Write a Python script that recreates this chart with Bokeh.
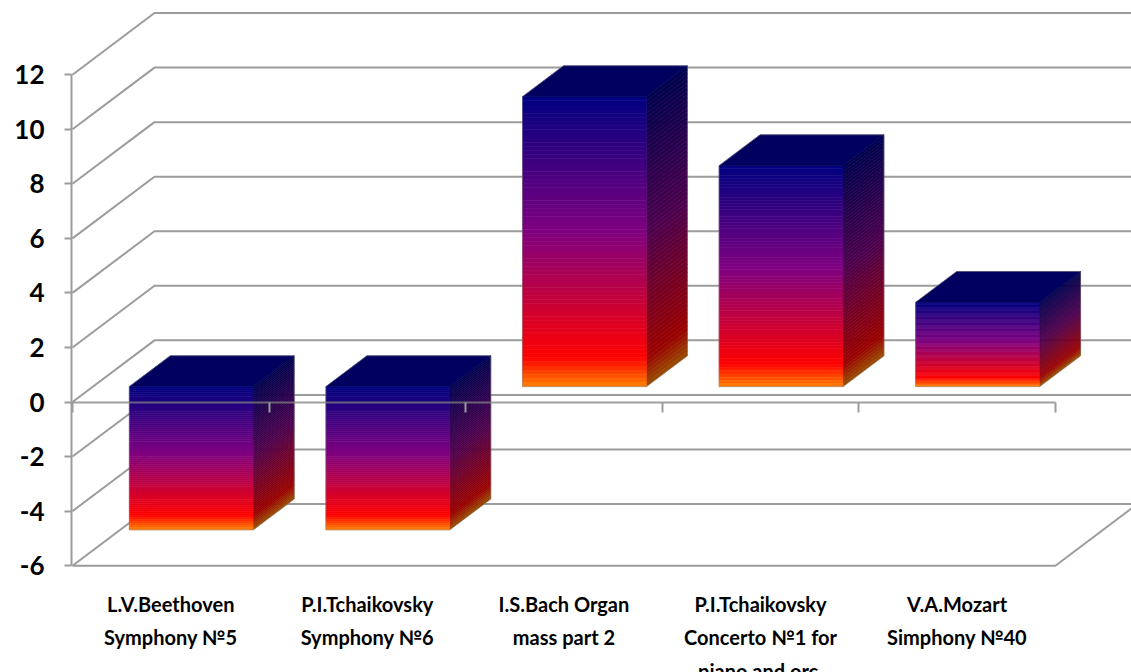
from bokeh.plotting import figure
from bokeh.models import LinearAxis, FixedTicker, Range1d, Label
from bokeh.embed import file_html
from bokeh.resources import INLINE

# Chart values
pieces = ["L.V.Beethoven\nSymphony №5", "P.I.Tchaikovsky\nSymphony №6", "I.S.Bach Organ\nmass part 2",
          "P.I.Tchaikovsky\nConcerto №1 for\npiano and orc.", "V.A.Mozart\nSimphony №40"]
percent = [-5.25, -5.25, 10.63, 8.1, 3.09]
y_ticks = [-6, -4, -2, 0, 2, 4, 6, 8, 10, 12]

# Oblique projection: how far the rear wall is shifted, in axis units
DEPTH_X = 0.417
DEPTH_Y = 2.26
BAR_WIDTH = 0.63
BAR_Z = (0.25, 0.75)
STRIPS = 70

GRID = "#9c9c9c"
FONT = "Lato"
TOP_FACE = "#00005e"
# Vertical colour ramp of the bars, top to bottom
RAMP = [(0.0, (0, 0, 128)), (0.47, (128, 0, 128)), (0.9, (255, 0, 0)), (1.0, (255, 128, 0))]


def ramp(t, shade=1.0):
    for (t0, c0), (t1, c1) in zip(RAMP, RAMP[1:]):
        if t <= t1:
            f = (t - t0) / (t1 - t0)
            rgb = [(a + (b - a) * f) * shade for a, b in zip(c0, c1)]
            return "#%02x%02x%02x" % tuple(int(round(v)) for v in rgb)
    return "#ff8000"


p = figure(width=1131, height=672, output_backend="svg", toolbar_location=None,
           x_range=Range1d(-0.005, 5.387), y_range=Range1d(-9.916, 14.72),
           min_border_left=71, min_border_right=0, min_border_top=0, min_border_bottom=0,
           outline_line_color=None, background_fill_color="white")
p.grid.visible = False

# Rear wall lines and the side wall diagonals
xs, ys = [], []
for v in y_ticks:
    xs.append([0, DEPTH_X, len(pieces) + DEPTH_X])
    ys.append([v, v + DEPTH_Y, v + DEPTH_Y])
xs.append([0, len(pieces), len(pieces) + DEPTH_X])
ys.append([-6, -6, -6 + DEPTH_Y])
p.multi_line(xs, ys, line_color=GRID, line_width=2)

# Bars
for i, v in enumerate(percent):
    low, high = min(v, 0), max(v, 0)
    x0 = i + 0.5 - BAR_WIDTH / 2
    x1 = x0 + BAR_WIDTH
    fx0, fx1 = x0 + BAR_Z[0] * DEPTH_X, x1 + BAR_Z[0] * DEPTH_X
    bx1 = x1 + BAR_Z[1] * DEPTH_X
    bx0 = x0 + BAR_Z[1] * DEPTH_X
    fy = BAR_Z[0] * DEPTH_Y
    by = BAR_Z[1] * DEPTH_Y
    step = (high - low) / STRIPS
    tops = [high - k * step for k in range(STRIPS)]
    bottoms = [t - step for t in tops]
    mids = [(k + 0.5) / STRIPS for k in range(STRIPS)]
    front = [ramp(t) for t in mids]
    side = [ramp(t, 0.6) for t in mids]
    p.patches([[fx1, bx1, bx1, fx1] for _ in tops],
              [[b + fy, b + by, t + by, t + fy] for t, b in zip(tops, bottoms)],
              fill_color=side, line_color=side, line_width=0.6)
    p.quad(left=fx0, right=fx1, top=[t + fy for t in tops], bottom=[b + fy for b in bottoms],
           fill_color=front, line_color=front, line_width=0.6)
    p.patch([fx0, bx0, bx1, fx1], [high + fy, high + by, high + by, high + fy],
            fill_color=TOP_FACE, line_color=TOP_FACE, line_width=0.6)
    # Soft silhouette around the block
    p.line([fx0, fx0, fx1, bx1, bx1, bx0, fx0],
           [high + fy, low + fy, low + fy, low + by, high + by, high + by, high + fy],
           line_color="#808080", line_alpha=0.45, line_width=1)

# Value axis
yaxis = p.yaxis[0]
yaxis.ticker = FixedTicker(ticks=y_ticks)
yaxis.bounds = (-6, 12)
yaxis.axis_line_color = GRID
yaxis.axis_line_width = 2
yaxis.major_tick_line_color = GRID
yaxis.major_tick_line_width = 2
yaxis.major_tick_in = 0
yaxis.major_tick_out = 7
yaxis.minor_tick_line_color = None
yaxis.major_label_standoff = 20
yaxis.major_label_text_font = FONT
yaxis.major_label_text_font_style = "bold"
yaxis.major_label_text_font_size = "26px"
yaxis.major_label_text_color = "black"
yaxis.major_label_overrides = {v: str(v) for v in y_ticks}

# Category axis at zero, ticks only, over the bars
xaxis = p.xaxis[0]
xaxis.fixed_location = 0
xaxis.ticker = FixedTicker(ticks=list(range(len(pieces) + 1)))
xaxis.bounds = (0, len(pieces))
xaxis.axis_line_color = "#808080"
xaxis.axis_line_alpha = 0.75
xaxis.axis_line_width = 2
xaxis.major_tick_line_color = GRID
xaxis.major_tick_line_width = 2
xaxis.major_tick_in = 0
xaxis.major_tick_out = 10
xaxis.minor_tick_line_color = None
xaxis.major_label_text_font_size = "0px"
xaxis.major_label_text_color = None

# Category names under the floor
centers = [i + 0.5 for i in range(len(pieces))]
names = LinearAxis(ticker=FixedTicker(ticks=centers), fixed_location=-6.15,
                   major_label_overrides=dict(zip(centers, pieces)),
                   axis_line_color=None, major_tick_line_color=None, minor_tick_line_color=None,
                   major_tick_in=0, major_tick_out=0, major_label_standoff=22,
                   major_label_text_font=FONT, major_label_text_font_style="bold",
                   major_label_text_font_size="20px", major_label_text_color="black",
                   major_label_text_line_height=1.4)
p.add_layout(names, "below")

p.add_layout(Label(x=-0.145, y=13.62, text="%", text_font=FONT, text_font_style="bold",
                   text_font_size="26px", text_color="black", text_align="right",
                   text_baseline="middle"))

open("out.html", "w").write(file_html(p, INLINE))
